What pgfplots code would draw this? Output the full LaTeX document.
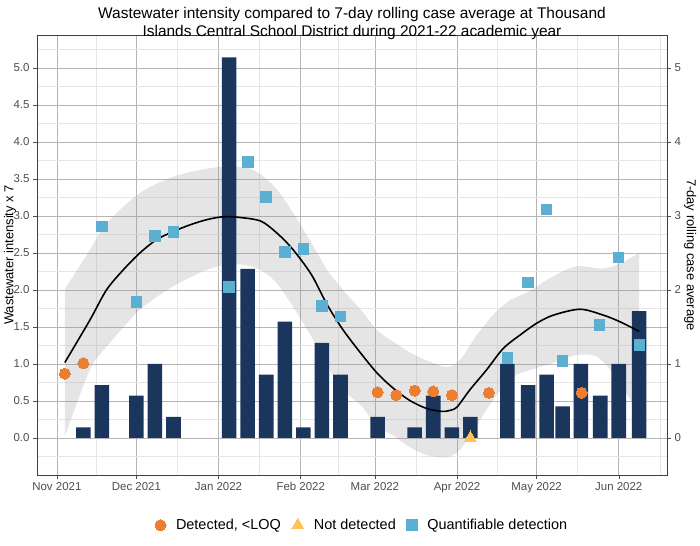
\documentclass[border=0pt]{standalone}
\usepackage{fontspec}
\setmainfont{Liberation Sans}
\usepackage{pgfplots}
\pgfplotsset{compat=1.18}
\usepgfplotslibrary{fillbetween}
\definecolor{navy}{HTML}{1B365D}
\definecolor{orng}{HTML}{ED7D31}
\definecolor{yell}{HTML}{FFC35A}
\definecolor{aqua}{HTML}{5BAFD3}
\definecolor{gridmaj}{HTML}{B5B5B5}
\definecolor{gridmin}{HTML}{E6E6E6}
\definecolor{txtgray}{HTML}{4D4D4D}
\begin{document}
\begin{tikzpicture}
\pgfplotsset{
  common/.style={
    scale only axis, width=630bp, height=440bp,
    at={(0,0)}, anchor=south west,
    xmin=-7.5, xmax=230.2, ymin=-0.5, ymax=5.446,
    tick align=outside, major tick length=4bp, minor tick length=0pt,
    tick style={color=txtgray, line width=0.5bp},
    ticklabel style={font=\fontsize{11.5}{13}\selectfont, color=txtgray},
    /pgf/number format/assume math mode=true,
    axis line style={color=black!75, line width=0.6bp},
  }
}
\begin{axis}[common,
  xtick={0,30,61,92,120,151,181,212},
  xticklabels={Nov 2021,Dec 2021,Jan 2022,Feb 2022,Mar 2022,Apr 2022,May 2022,Jun 2022},
  minor xtick={15,45.5,76.5,106,135.5,166,196.5,227.5},
  ytick={0,0.5,1,1.5,2,2.5,3,3.5,4,4.5,5},
  minor ytick={-0.25,0.25,0.75,1.25,1.75,2.25,2.75,3.25,3.75,4.25,4.75,5.25},
  yticklabel style={/pgf/number format/.cd, fixed, fixed zerofill, precision=1},
  xtick pos=left, ytick pos=left,
  grid=both,
  major grid style={color=gridmaj, line width=0.6bp},
  minor grid style={color=gridmin, line width=0.5bp},
  ylabel={Wastewater intensity x 7},
  every axis y label/.style={at={(axis description cs:-0.043,0.5)}, anchor=center, rotate=90, font=\fontsize{13}{15}\selectfont, color=black},
  title={Wastewater intensity compared to 7-day rolling case average at Thousand\\Islands Central School District during 2021-22 academic year},
  title style={align=center, font=\fontsize{15.5}{18.5}\selectfont, at={(axis description cs:0.5,1)}, anchor=south, inner sep=0pt, yshift=-11bp},
  legend columns=3,
  legend style={draw=none, fill=none, at={(axis description cs:0.516,-0.114)}, anchor=center, font=\fontsize{14.5}{16}\selectfont,
    /tikz/every odd column/.append style={column sep=8bp},
    /tikz/every even column/.append style={column sep=9bp}},
  legend cell align=left,
]
% bars: 7-day rolling case average (multiples of 1/7)
\addplot[ybar, bar width=5.5, bar shift=0pt, fill=navy, draw=none, forget plot] coordinates {
(10,0.142857) (17,0.714286) (30,0.571429) (37,1.0) (44,0.285714)
(65,5.142857) (72,2.285714) (79,0.857143) (86,1.571429) (93,0.142857) (100,1.285714) (107,0.857143)
(121,0.285714) (135,0.142857) (142,0.571429) (149,0.142857) (156,0.285714)
(170,1.0) (177.8,0.714286) (184.8,0.857143) (190.8,0.428571) (197.7,1.0) (205,0.571429) (212,1.0) (219.7,1.714286)
};
% confidence ribbon
\addplot[name path=up, draw=none, smooth, forget plot] coordinates {
(3,2.01) (12.4,2.54) (18.7,2.90) (31.3,3.31) (43.9,3.53) (56.5,3.64) (65,3.67) (72,3.65) (77,3.56) (83,3.36) (89,3.05)
(96,2.64) (102,2.27) (108,2.0) (115,1.72) (121,1.45) (127,1.3) (133,1.16) (139.4,1.05) (147,0.96) (152,1.05)
(158,1.37) (164.5,1.66) (170.8,1.86) (177,1.96) (187,2.18) (196,2.32) (206,2.29) (212.5,2.36) (219.7,2.5)
};
\addplot[name path=lo, draw=none, smooth, forget plot] coordinates {
(3,0.02) (12.4,0.92) (18.7,1.23) (31.3,1.73) (43.9,2.05) (56.5,2.27) (65,2.35) (72,2.33) (77,2.27) (83,2.09) (89,1.78)
(96,1.37) (102,0.97) (108,0.65) (115,0.43) (121,0.16) (127,0.03) (133,-0.12) (139.4,-0.23) (147,-0.26) (152,-0.16)
(158,0.15) (164.5,0.51) (170.8,0.80) (177,0.9) (187,1.01) (196,1.12) (203.7,1.10) (210,0.87) (215,0.6) (219.7,0.33)
};
\addplot[fill=black!40, fill opacity=0.25, draw=none, forget plot] fill between[of=up and lo];
% smooth fit
\addplot[black, line width=1.6bp, smooth, forget plot] coordinates {
(3,1.02) (12.4,1.59) (18.7,2.0) (25,2.27) (31.3,2.5) (37.6,2.68) (43.9,2.79) (50.2,2.88) (56.5,2.95) (62.8,2.99)
(69.1,2.98) (77,2.93) (83,2.77) (89,2.55) (96,2.21) (102,1.8) (108,1.46) (115,1.13) (121,0.87) (127,0.67)
(133,0.51) (139.4,0.40) (145,0.36) (148,0.37) (151,0.42) (155.8,0.65) (162.1,0.92) (168.4,1.21) (174.7,1.39)
(181,1.55) (187.3,1.66) (197.4,1.74) (206.2,1.66) (212.5,1.57) (219.7,1.44)
};
% points
\addplot[only marks, mark=*, mark size=5.5bp, mark options={fill=orng, draw=orng, line width=0pt}] coordinates {
(3,0.87) (10,1.01) (121,0.62) (128,0.58) (135,0.64) (142,0.63) (149,0.58) (163,0.61) (198,0.61)
};
\addlegendentry{Detected, <LOQ}
\addplot[only marks, mark=triangle*, mark size=7bp, mark options={fill=yell, draw=yell, line width=0pt}] coordinates {
(156,0.0)
};
\addlegendentry{Not detected}
\addplot[only marks, mark=square*, mark size=5.3bp, mark options={fill=aqua, draw=aqua, line width=0pt}] coordinates {
(17,2.86) (30,1.84) (37,2.73) (44,2.78) (65,2.04) (72,3.73) (79,3.26) (86,2.51) (93,2.55) (100,1.78) (107,1.64)
(170,1.08) (177.8,2.10) (184.8,3.09) (190.8,1.04) (204.8,1.53) (211.9,2.44) (219.8,1.26)
};
\addlegendentry{Quantifiable detection}
\end{axis}
\begin{axis}[common,
  hide x axis, axis y line*=right,
  ytick={0,1,2,3,4,5},
  yticklabel style={/pgf/number format/.cd, fixed, precision=0},
  ylabel={7-day rolling case average},
  every axis y label/.style={at={(axis description cs:1.037,0.5)}, anchor=center, rotate=-90, font=\fontsize{13}{15}\selectfont, color=black},
]
\addplot[draw=none] coordinates {(0,0)};
\end{axis}
\pgfresetboundingbox
\path[use as bounding box] (-37bp,-71bp) rectangle (663bp,475bp);
\end{tikzpicture}
\end{document}
